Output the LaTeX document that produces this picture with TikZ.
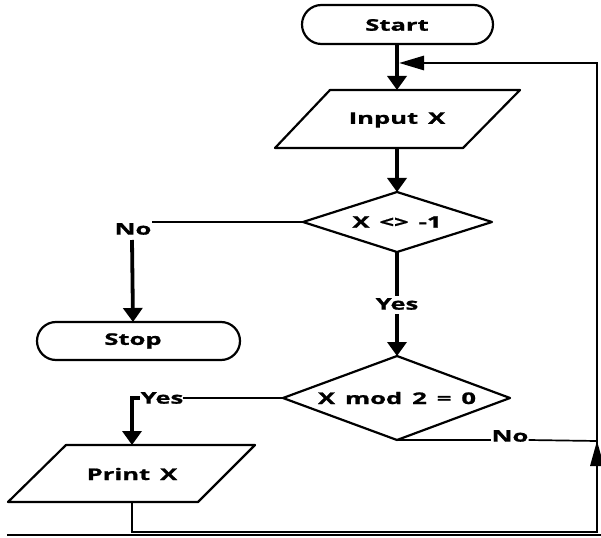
\documentclass[tikz,border=0pt]{standalone}
\usepackage{fontspec}
\setmainfont{Open Sans}[FakeStretch=1.6, WordSpace=1.5, FakeBold=1.2]
\usetikzlibrary{arrows.meta}
\begin{document}
\begin{tikzpicture}[x=1pt,y=-1pt,
  lbl/.style={font=\fontsize{16}{18}\selectfont\bfseries, inner sep=0pt},
  shapeline/.style={line width=2.2pt, line join=round},
  flow/.style={line width=3.8pt, -{Triangle[width=19pt,length=14pt]}},
  flowplain/.style={line width=3.8pt},
  branch/.style={line width=1.7pt},
  loopline/.style={line width=2.8pt, line join=miter},
  looptip/.style={-{Triangle[width=14pt,length=25pt,fill=black]}}
]
\useasboundingbox (0,0) rectangle (601,537);

% terminals
\draw[shapeline, rounded corners=19.5pt] (302,5) rectangle (493,44);
\node[lbl] (start) at (397,25) {Start};
\draw[shapeline, rounded corners=19pt] (37,322) rectangle (240,360);
\node[lbl] (stop) at (133,341) {Stop};

% input / output parallelograms
\draw[shapeline] (330,90) -- (520,90) -- (463,148) -- (275,148) -- cycle;
\node[lbl] (input) at (397,120) {Input X};
\draw[shapeline] (66,445) -- (255,445) -- (198,502) -- (8,502) -- cycle;
\node[lbl] (print) at (132,474) {Print X};

% decisions
\draw[shapeline] (397,192) -- (492,222) -- (397,252) -- (303,222) -- cycle;
\node[lbl] (d1) at (397,222) {X <> -1};
\draw[shapeline] (397,356) -- (510,398) -- (397,440) -- (283,398) -- cycle;
\node[lbl] (d2) at (397,398) {X mod 2 = 0};

% anchor points of the shapes
\coordinate (start-s) at (397,44);
\coordinate (input-n) at (397,90);
\coordinate (input-s) at (397,148);
\coordinate (d1-n) at (397,192);
\coordinate (d1-w) at (303,222);
\coordinate (d1-s) at (397,252);
\coordinate (stop-n) at (133,322);
\coordinate (d2-n) at (397,356);
\coordinate (d2-w) at (283,398);
\coordinate (d2-s) at (397,440);
\coordinate (print-n) at (132,445);
\coordinate (print-s) at (132,502);
\coordinate (loop-br) at (597,532);
\coordinate (loop-tr) at (597,63);
\coordinate (merge) at (597,441);
\coordinate (join) at (399,63);

% branch labels
\node[lbl] (no1) at (133,229) {No};
\node[lbl] (yes1) at (397,304) {Yes};
\node[lbl] (yes2) at (162,398) {Yes};
\node[lbl] (no2) at (510,436) {No};

% endpoints of the connectors beside the labels
\coordinate (no1-s) at (132,240);
\coordinate (yes1-n) at (397,296);
\coordinate (yes1-s) at (397,314);

% main flow
\draw[flow] (start-s) -- (input-n);
\draw[flow] (input-s) -- (d1-n);
\draw[branch] (d1-w) -- (no1.east |- d1-w);
\draw[flow] (no1-s) -- (stop-n);
\draw[flowplain] (d1-s) -- (yes1-n);
\draw[flow] (yes1-s) -- (d2-n);
\draw[branch] (d2-w) -- (yes2.east |- d2-w);
\draw[line width=3.8pt, -{Triangle[width=19pt,length=14pt]}]
  ([xshift=-1pt]yes2.west |- d2-w) -- (yes2.west -| print-n) -- (print-n);

% loop back to the input
\draw[branch] (d2-s) -- (no2.west |- d2-s);
\draw[branch] (no2.east |- d2-s) -- (merge);
\draw[loopline] (print-s) -- (print-s |- loop-br) -- (loop-br) -- (merge);
\fill (merge) -- ++(-7,25) -- ++(14,0) -- cycle;
\draw[loopline, looptip] (merge) -- (loop-tr) -- (join);

% bottom rule
\draw[line width=1.3pt] (7,535) -- (601,535);
\end{tikzpicture}
\end{document}
